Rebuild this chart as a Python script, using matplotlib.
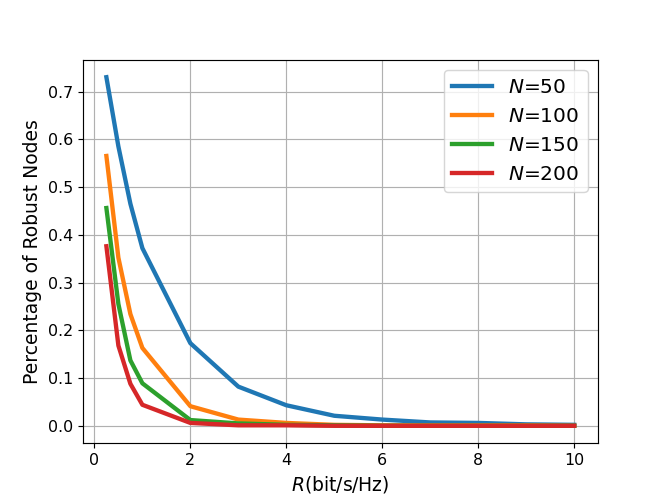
import matplotlib
matplotlib.use("Agg")
import matplotlib.pyplot as plt

# Значення R
R = [0.25, 0.5, 0.75, 1, 2, 3, 4, 5, 6, 7, 8, 9, 10]

n50 = [0.73, 0.585, 0.465, 0.372, 0.173, 0.082, 0.043, 0.021, 0.013, 0.007, 0.006, 0.003, 0.002]
n100 = [0.565, 0.352, 0.234, 0.163, 0.041, 0.013, 0.006, 0.002, 0.001, 0.001, 0.001, 0.001, 0.0]
n150 = [0.456, 0.255, 0.137, 0.089, 0.012, 0.005, 0.002, 0.001, 0.0, 0.0, 0.0, 0.0, 0.0]
n200 = [0.376, 0.168, 0.088, 0.044, 0.006, 0.001, 0.001, 0.0, 0.0, 0.0, 0.0, 0.0, 0.0]

labels = ["$N$=50", "$N$=100", "$N$=150", "$N$=200"]

fig, ax = plt.subplots(figsize=(6.4, 4.8), dpi=103.75)

for ys, lab in zip([n50, n100, n150, n200], labels):
    ax.plot(R, ys, linewidth=3, label=lab)

ax.set_xlabel("$R$(bit/s/Hz)", fontsize=13)
ax.set_ylabel("Percentage of Robust Nodes", fontsize=13)
ax.tick_params(labelsize=11)
ax.legend(fontsize=14)
ax.grid()

fig.savefig("out.png", dpi=103.75)
